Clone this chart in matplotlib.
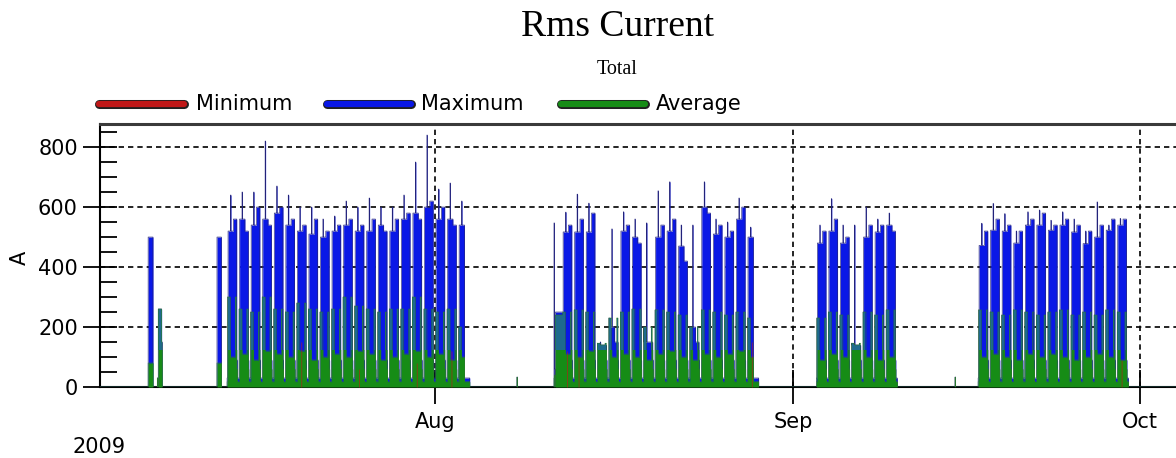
import numpy as np
import matplotlib
matplotlib.use("Agg")
import matplotlib.pyplot as plt
import matplotlib.dates as mdates
import matplotlib.ticker as mticker
from matplotlib.lines import Line2D
import matplotlib.patheffects as pe

# ---------------- data ----------------
block_starts = ["2009-07-14", "2009-08-12", "2009-09-03", "2009-09-17"]

peak_max = [
    [640, 650, 650, 820, 670, 640, 600, 600, 560, 570, 620, 600, 630, 600, 600, 640, 750, 840, 660, 680, 620],
    [583, 643, 613, 150, 527, 584, 560, 547, 654, 684, 540, 540, 684, 560, 550, 630, 533],
    [540, 628, 540, 540, 600, 560, 580],
    [546, 612, 578, 520, 584, 590, 556, 584, 560, 520, 617, 540, 562],
]
level_am = [
    [520, 560, 540, 560, 580, 540, 520, 510, 500, 520, 540, 520, 520, 540, 520, 560, 580, 600, 560, 560, 540],
    [517, 517, 517, 140, 200, 520, 500, 150, 500, 520, 470, 200, 600, 510, 500, 560, 500],
    [480, 520, 480, 140, 500, 517, 540],
    [472, 523, 520, 480, 540, 540, 523, 540, 517, 478, 500, 523, 540],
]
level_pm = [
    [560, 520, 600, 540, 600, 560, 540, 560, 520, 540, 560, 540, 560, 520, 560, 580, 560, 620, 600, 540, 0],
    [540, 560, 580, 140, 150, 540, 480, 150, 540, 560, 420, 150, 580, 540, 520, 600, 0],
    [520, 560, 500, 140, 540, 540, 520],
    [520, 560, 540, 520, 560, 580, 540, 560, 540, 520, 540, 560, 560],
]
avg_day = [
    [100, 110, 90, 120, 110, 100, 120, 90, 100, 110, 100, 120, 110, 90, 100, 110, 120, 100, 110, 90, 100],
    [110, 100, 120, 140, 100, 110, 100, 90, 110, 120, 100, 90, 110, 100, 110, 120, 100],
    [90, 110, 100, 140, 100, 90, 100],
    [100, 110, 100, 90, 110, 100, 110, 100, 90, 100, 110, 100, 90],
]
avg_high = [
    [300, 260, 250, 300, 260, 250, 280, 260, 250, 260, 300, 270, 260, 250, 260, 260, 300, 260, 250, 260, 200],
    [250, 257, 250, 146, 230, 250, 260, 200, 257, 250, 240, 200, 257, 250, 240, 250, 230],
    [230, 250, 240, 146, 250, 240, 257],
    [257, 250, 240, 257, 250, 240, 250, 257, 240, 250, 240, 257, 250],
]
min_day = [
    [0, 0, 0, 0, 0, 0, 150, 0, 0, 0, 0, 60, 0, 0, 0, 0, 80, 0, 0, 120, 0],
    [120, 100, 0, 0, 0, 0, 0, 0, 0, 0, 0, 0, 0, 0, 0, 0, 150],
    [0, 0, 0, 0, 0, 0, 0],
    [0, 0, 0, 0, 0, 0, 0, 0, 0, 0, 0, 0, 90],
]
night_max = 30
night_avg = 18
evening_max = 90
evening_avg = 60

# isolated events outside the blocks
event_start = ["2009-07-07T04", "2009-07-07T23", "2009-07-08T01", "2009-07-08T08",
               "2009-07-13T03", "2009-08-08T02", "2009-08-11T07", "2009-08-11T08",
               "2009-08-11T10", "2009-09-15T00"]
event_end = ["2009-07-07T14", "2009-07-08T00", "2009-07-08T08", "2009-07-08T09",
             "2009-07-13T12", "2009-08-08T03", "2009-08-11T08", "2009-08-11T09",
             "2009-08-12T01", "2009-09-15T01"]
event_max = [500, 30, 260, 150, 500, 33, 547, 60, 250, 33]
event_avg = [80, 30, 260, 150, 80, 33, 30, 40, 240, 33]

series_names = ["Minimum", "Maximum", "Average"]
y_ticks = [0, 200, 400, 600, 800]

# ---------------- build hourly series ----------------
t0 = np.datetime64("2009-07-03T00")
t1 = np.datetime64("2009-10-05T00")
hours = np.arange(t0, t1, np.timedelta64(1, "h"))
n = len(hours)
mx = np.zeros(n)
av = np.zeros(n)
mn = np.zeros(n)

# within-day layout: (start hour, end hour, max source, avg source)
segments = [
    (0, 1, "night", "night"),
    (1, 2, "high", "high"),
    (2, 7, "am", "high"),
    (7, 8, "peak", "day"),
    (8, 13, "am", "day"),
    (13, 17, "pm", "day"),
    (17, 20, "pm", "high"),
    (20, 21, "eve", "eve"),
    (21, 24, "night", "night"),
]

for b, start in enumerate(block_starts):
    d0 = np.datetime64(start + "T00")
    for i in range(len(peak_max[b])):
        vals_max = {"night": night_max, "high": avg_high[b][i], "am": level_am[b][i],
                    "pm": level_pm[b][i], "peak": peak_max[b][i], "eve": evening_max}
        vals_avg = {"night": night_avg, "high": avg_high[b][i], "day": avg_day[b][i],
                    "eve": evening_avg}
        base = int((d0 - t0) / np.timedelta64(1, "h")) + 24 * i
        for h0, h1, km, ka in segments:
            if level_pm[b][i] == 0 and h0 >= 13:
                km, ka = "night", "night"
            mx[base + h0: base + h1] = vals_max[km]
            av[base + h0: base + h1] = vals_avg[ka]
        mn[base + 9: base + 11] = min_day[b][i]

for s, e, vm, va in zip(event_start, event_end, event_max, event_avg):
    i0 = int((np.datetime64(s) - t0) / np.timedelta64(1, "h"))
    i1 = int((np.datetime64(e) - t0) / np.timedelta64(1, "h"))
    mx[i0:i1] = vm
    av[i0:i1] = va

t = mdates.date2num(hours.astype("datetime64[s]").astype(object))

# ---------------- figure ----------------
W, H = 1176, 458
fig = plt.figure(figsize=(W / 100, H / 100), dpi=100)
fig.patch.set_facecolor("white")
ax = fig.add_axes([100 / W, (H - 387) / H, 1 - 100 / W, (387 - 124) / H])

blue = "#0a18e6"
navy = "#22227a"
green = "#168c16"
teal = "#1e6a8e"
red = "#c01818"

ax.fill_between(t, 0, mx, step="post", color=blue, lw=0, zorder=2)
ax.step(t, mx, where="post", color=navy, lw=0.45, zorder=3)
av_low = np.minimum(av, 125)
ax.fill_between(t, 0, av_low, step="post", color=green, lw=0, zorder=4)
ax.fill_between(t, av_low, av, where=av > 125, step="post", color=teal, lw=0, zorder=4)
ax.step(t, av, where="post", color="#2a7a2a", lw=0.4, zorder=4)
ax.fill_between(t, 0, mn, step="post", color=red, lw=0, alpha=0.6, zorder=5)

ax.set_xlim(mdates.date2num(np.datetime64("2009-07-03T00").astype(object)),
            mdates.date2num(np.datetime64("2009-10-04T03").astype(object)))
ax.set_ylim(0, 877)

ax.xaxis.set_major_locator(mdates.MonthLocator())
ax.xaxis.set_major_formatter(mdates.DateFormatter("%b"))
ax.yaxis.set_major_locator(mticker.FixedLocator(y_ticks))
ax.yaxis.set_minor_locator(mticker.MultipleLocator(50))

ax.tick_params(axis="y", which="major", direction="inout", length=24, width=1.3,
               labelsize=15, pad=4, colors="black")
ax.tick_params(axis="y", which="minor", direction="in", length=12, width=1.3)
ax.tick_params(axis="x", which="major", direction="inout", length=24, width=1.3,
               labelsize=15, pad=6, colors="black")

ax.grid(True, which="major", axis="both", color="black", lw=1.2, ls=(0, (3.2, 2.4)), zorder=1)
ax.set_axisbelow(True)

for side in ["left", "bottom"]:
    ax.spines[side].set_linewidth(1.5)
    ax.spines[side].set_color("black")
ax.spines["top"].set_linewidth(2.2)
ax.spines["top"].set_color("#3a3a3a")
ax.spines["right"].set_visible(False)

# titles
fig.text(617 / W, 1 - 27 / H, "Rms Current", family="Liberation Serif", size=27,
         ha="center", va="center")
fig.text(617 / W, 1 - 69 / H, "Total", family="Liberation Serif", size=14.5,
         ha="center", va="center")

# legend
leg_colors = [red, blue, green]
leg_x = [(99, 184, 196), (327, 411, 421), (561, 645, 656)]
for name, col, (xa, xb, xt) in zip(series_names, leg_colors, leg_x):
    ln = Line2D([xa / W, xb / W], [1 - 104 / H, 1 - 104 / H], transform=fig.transFigure,
                color=col, lw=4.5, solid_capstyle="round",
                path_effects=[pe.Stroke(linewidth=6.5, foreground="#202020"), pe.Normal()])
    fig.add_artist(ln)
    fig.text(xt / W, 1 - 104 / H, name, size=15, ha="left", va="center")

fig.text(20 / W, 1 - 258 / H, "A", size=15, rotation=90, ha="center", va="center")
fig.text(72 / W, 1 - 447 / H, "2009", size=15, ha="left", va="center")

fig.savefig("out.png", dpi=100)
